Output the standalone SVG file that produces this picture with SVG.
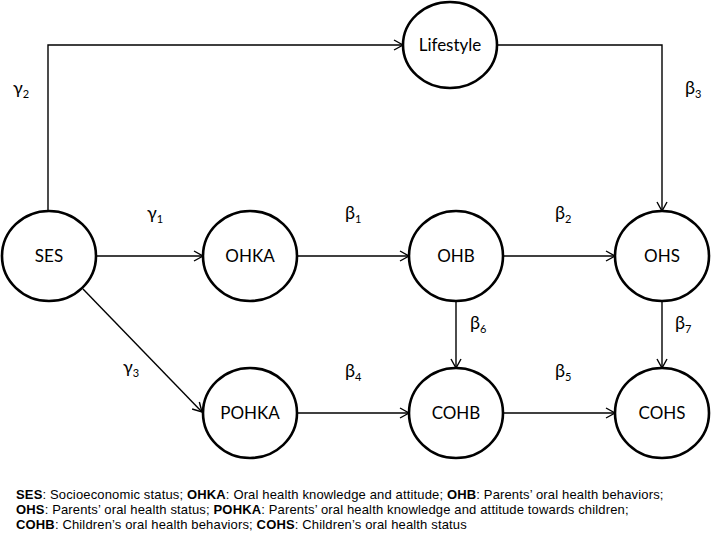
<svg xmlns="http://www.w3.org/2000/svg" width="711" height="540" viewBox="0 0 711 540">
<style>
.node ellipse{fill:#fff;stroke:#000;stroke-width:2.6}
.node text{font-family:Lato,"Liberation Sans",sans-serif;font-size:17px;text-anchor:middle;fill:#000}
.edge{fill:none;stroke:#000;stroke-width:1.4}
.lbl{font-family:Lato,"Liberation Sans",sans-serif;font-size:18px;fill:#000}
.lbl tspan.s{font-size:11px}
.leg{font-family:"Liberation Sans",Arial,sans-serif;font-size:13px;letter-spacing:0.15px;fill:#000}
.leg .b{font-weight:bold}
</style>
<defs>
<marker id="arr" markerUnits="userSpaceOnUse" markerWidth="12" markerHeight="12" refX="9" refY="5" orient="auto" viewBox="-1 -1 12 12">
<path d="M0,0 L9,5 L0,10" fill="none" stroke="#000" stroke-width="1.4"/>
</marker>
</defs>
<rect width="711" height="540" fill="#fff"/>
<g id="connectors">
<polyline class="edge" points="48,211 48,45 403,45" marker-end="url(#arr)"/>
<polyline class="edge" points="497,45 662,45 662,211" marker-end="url(#arr)"/>
<line class="edge" x1="96" y1="256" x2="203" y2="256" marker-end="url(#arr)"/>
<line class="edge" x1="297" y1="256" x2="409" y2="256" marker-end="url(#arr)"/>
<line class="edge" x1="503" y1="256" x2="615" y2="256" marker-end="url(#arr)"/>
<line class="edge" x1="83" y1="289" x2="202" y2="412" marker-end="url(#arr)"/>
<line class="edge" x1="297" y1="413" x2="409" y2="413" marker-end="url(#arr)"/>
<line class="edge" x1="503" y1="413" x2="615" y2="413" marker-end="url(#arr)"/>
<line class="edge" x1="456" y1="301" x2="456" y2="368" marker-end="url(#arr)"/>
<line class="edge" x1="662" y1="301" x2="662" y2="368" marker-end="url(#arr)"/>
</g>
<g id="labels">
<text class="lbl" x="13" y="94">γ<tspan class="s" dy="4">2</tspan></text>
<text class="lbl" x="147" y="219">γ<tspan class="s" dy="4">1</tspan></text>
<text class="lbl" x="345" y="219">β<tspan class="s" dy="4">1</tspan></text>
<text class="lbl" x="555" y="219">β<tspan class="s" dy="4">2</tspan></text>
<text class="lbl" x="685" y="94">β<tspan class="s" dy="4">3</tspan></text>
<text class="lbl" x="123" y="373">γ<tspan class="s" dy="4">3</tspan></text>
<text class="lbl" x="345" y="377">β<tspan class="s" dy="4">4</tspan></text>
<text class="lbl" x="555" y="377">β<tspan class="s" dy="4">5</tspan></text>
<text class="lbl" x="470" y="329">β<tspan class="s" dy="4">6</tspan></text>
<text class="lbl" x="675" y="329">β<tspan class="s" dy="4">7</tspan></text>
</g>
<g id="n-lifestyle" class="node"><ellipse cx="450" cy="45" rx="47" ry="43"/><text x="450" y="51">Lifestyle</text></g>
<g id="n-ses" class="node"><ellipse cx="49" cy="256" rx="47" ry="45"/><text x="49" y="262">SES</text></g>
<g id="n-ohka" class="node"><ellipse cx="250" cy="256" rx="47" ry="45"/><text x="250" y="262">OHKA</text></g>
<g id="n-ohb" class="node"><ellipse cx="456" cy="256" rx="47" ry="45"/><text x="456" y="262">OHB</text></g>
<g id="n-ohs" class="node"><ellipse cx="662" cy="256" rx="47" ry="45"/><text x="662" y="262">OHS</text></g>
<g id="n-pohka" class="node"><ellipse cx="250" cy="413" rx="47" ry="45"/><text x="250" y="419">POHKA</text></g>
<g id="n-cohb" class="node"><ellipse cx="456" cy="413" rx="47" ry="45"/><text x="456" y="419">COHB</text></g>
<g id="n-cohs" class="node"><ellipse cx="662" cy="413" rx="47" ry="45"/><text x="662" y="419">COHS</text></g>
<g id="legend">
<text class="leg" x="16" y="499"><tspan class="b">SES</tspan>: Socioeconomic status; <tspan class="b">OHKA</tspan>: Oral health knowledge and attitude; <tspan class="b">OHB</tspan>: Parents’ oral health behaviors;</text>
<text class="leg" x="16" y="514"><tspan class="b">OHS</tspan>: Parents’ oral health status; <tspan class="b">POHKA</tspan>: Parents’ oral health knowledge and attitude towards children;</text>
<text class="leg" x="16" y="529"><tspan class="b">COHB</tspan>: Children’s oral health behaviors; <tspan class="b">COHS</tspan>: Children’s oral health status</text>
</g>
</svg>
